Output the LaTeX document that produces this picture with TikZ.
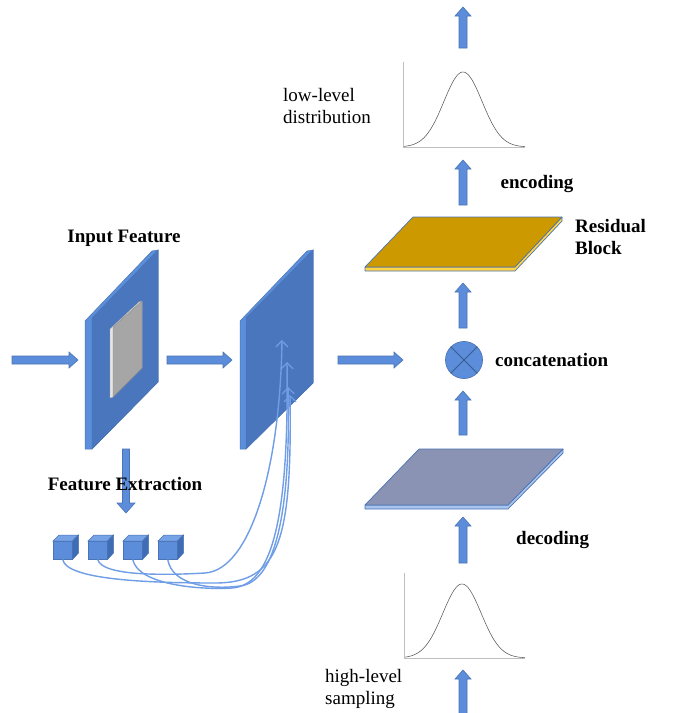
\documentclass[tikz,border=0pt]{standalone}
\usepackage{fontspec}
\setmainfont{Liberation Serif}
\usetikzlibrary{arrows.meta}
\definecolor{arrfill}{HTML}{5B8DDA}
\definecolor{arrline}{HTML}{4A74B5}
\definecolor{pfront}{HTML}{4A76BE}
\definecolor{pside}{HTML}{5B8FDB}
\definecolor{curvec}{HTML}{6F9DE6}
\definecolor{gold}{HTML}{CC9900}
\definecolor{goldstrip}{HTML}{FFD447}
\definecolor{plategray}{HTML}{8A93B3}
\definecolor{platestrip}{HTML}{A9C4EC}
\definecolor{cubetop}{HTML}{76A2E6}
\definecolor{cubeside}{HTML}{3F6DB5}
\tikzset{
  blockarrow/.style={fill=arrfill,draw=arrline,line width=0.6pt},
  panelside/.style={fill=pside,draw=arrline,line width=0.5pt},
  panelfront/.style={fill=pfront,draw=arrline,line width=0.5pt},
  plateedge/.style={draw=arrline,line width=0.7pt,line join=round},
  axisline/.style={draw=black!25,line width=1pt},
  gauss/.style={draw=black!65,line width=0.55pt},
  skipcurve/.style={draw=curvec,line width=1.4pt,-{Straight Barb[length=6pt,width=12pt,line width=1.2pt]}},
  bigtxt/.style={font=\fontsize{19}{22}\selectfont,inner sep=0pt,align=left},
  boldtxt/.style={font=\fontsize{19}{22}\selectfont\bfseries,inner sep=0pt,align=left},
  cubeface/.style={fill=arrfill,draw=arrline,line width=0.5pt,minimum width=19pt,minimum height=18pt,inner sep=0pt},
}
\newcommand\blkup[3]{% x, ybottom, ytip
  \filldraw[blockarrow] (#1-4,#2) -- (#1-4,#3+9) -- (#1-8,#3+9) -- (#1,#3) -- (#1+8,#3+9) -- (#1+4,#3+9) -- (#1+4,#2) -- cycle;}
\newcommand\blkright[3]{% xstart, xtip, y
  \filldraw[blockarrow] (#1,#3-4) -- (#2-9,#3-4) -- (#2-9,#3-8) -- (#2,#3) -- (#2-9,#3+8) -- (#2-9,#3+4) -- (#1,#3+4) -- cycle;}
\newcommand\mycube[2]{% name, x of front-left
  \node[cubeface,anchor=north west] (#1) at (#2,541) {};
  \filldraw[fill=cubetop,draw=arrline,line width=0.5pt] (#1.north west) -- ++(6,-6) -- ++(19,0) -- (#1.north east) -- cycle;
  \filldraw[fill=cubeside,draw=arrline,line width=0.5pt] (#1.north east) -- ++(6,-6) -- ++(0,18) -- (#1.south east) -- cycle;}
\begin{document}
\begin{tikzpicture}[x=1pt,y=-1pt]
\useasboundingbox (0,0) rectangle (678,713);
\fill[white] (0,0) rectangle (678,713);

% ---------- left part ----------
\node[boldtxt] (inputlbl) at (124,238) {Input Feature};
\blkright{12}{78}{360}
% panel 1
\filldraw[panelside] (85,321) -- (152,251) -- (158,250) -- (158,382) -- (92,449) -- (85,449) -- cycle;
\filldraw[panelfront] (92,318) -- (158,250) -- (158,382) -- (92,449) -- cycle;
\filldraw[fill=black!10,draw=black!35,line width=0.4pt] (110,329) -- (139,302) -- (142,301) -- (142,368) -- (113,397) -- (110,398) -- cycle;
\filldraw[fill=black!35,draw=black!45,line width=0.4pt] (113,327) -- (142,301) -- (142,368) -- (113,397) -- cycle;
\blkright{167}{232}{360}
% panel 2
\filldraw[panelside] (240,321) -- (307,251) -- (313,250) -- (313,383) -- (246,449) -- (240,449) -- cycle;
\filldraw[panelfront] (246,318) -- (313,250) -- (313,383) -- (246,449) -- cycle;
\blkright{338}{403}{360}

% down arrow to feature extraction
\filldraw[blockarrow] (122.5,449) -- (122.5,503) -- (117,503) -- (126,513) -- (135,503) -- (129.5,503) -- (129.5,449) -- cycle;
\node[boldtxt] (featlbl) at (125,484) {Feature Extraction};

% cubes
\mycube{c1}{53}
\mycube{c2}{88}
\mycube{c3}{123}
\mycube{c4}{158}

% tips inside panel 2
\coordinate (t1) at (282,340);
\coordinate (t2) at (287,362);
\coordinate (t3) at (288,387);
\coordinate (t4) at (290,395);
\draw[skipcurve] (c1.south) .. controls (66,580) and (150,583) .. (215,583) .. controls (280,583) and (292,540) .. (t4);
\draw[skipcurve] (c2.south) .. controls (102,577) and (170,575) .. (205,573) .. controls (250,570) and (280,470) .. (t1);
\draw[skipcurve] (c3.south) .. controls (138,585) and (200,590) .. (232,588) .. controls (272,585) and (289,520) .. (t2);
\draw[skipcurve] (c4.south) .. controls (172,585) and (210,590) .. (240,586) .. controls (276,582) and (291,510) .. (t3);

% ---------- right column ----------
\blkup{463}{48}{7}
% top gaussian
\draw[axisline] (403,62) -- (403,147) -- (525,147);
\draw[gauss] plot[domain=404:525,samples=90,smooth] (\x,{147-75*exp(((\x-463)^2)/(-730))});
\node[bigtxt,anchor=west] (lowlbl) at (283,106) {low-level\\distribution};

\blkup{463}{205}{160}
\node[boldtxt] (enclbl) at (537,184) {encoding};

% residual block plate
\filldraw[plateedge,fill=goldstrip] (365,267) -- (515,267) -- (562,217) -- (562,221) -- (515,271) -- (365,271) -- cycle;
\filldraw[plateedge,fill=gold] (413,217) -- (562,217) -- (515,267) -- (365,267) -- cycle;
\node[boldtxt,anchor=west] (reslbl) at (575,237) {Residual\\Block};

\blkup{463}{328}{283}

% concatenation
\node[circle,fill=arrfill,draw=arrline,line width=0.7pt,minimum size=37pt,inner sep=0pt] (cat) at (464,360) {};
\draw[draw=arrline!80!black,line width=0.8pt] (cat.north west) -- (cat.south east) (cat.north east) -- (cat.south west);
\node[boldtxt,anchor=west] (catlbl) at (495,360) {concatenation};

\blkup{463}{435}{391}

% decoding plate
\filldraw[plateedge,fill=platestrip] (365,505) -- (508,505) -- (563,449) -- (563,453) -- (508,509) -- (365,509) -- cycle;
\filldraw[plateedge,fill=plategray] (419,449) -- (563,449) -- (508,505) -- (365,505) -- cycle;

\blkup{463}{563}{517}
\node[boldtxt,anchor=west] (declbl) at (516,540) {decoding};

% bottom gaussian
\draw[axisline] (404,573) -- (404,658) -- (525,658);
\draw[gauss] plot[domain=405:525,samples=90,smooth] (\x,{658-74*exp(((\x-462)^2)/(-730))});
\node[bigtxt,anchor=west] (highlbl) at (325,689) {high-level\\sampling};

\blkup{463}{716}{670}
\end{tikzpicture}
\end{document}
